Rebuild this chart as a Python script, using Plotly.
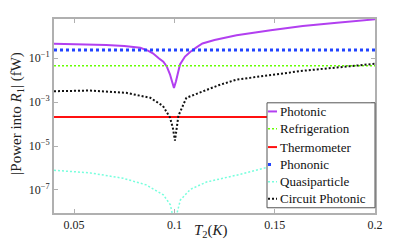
import plotly.graph_objects as go

# Temperature T2 (K) sample points and curve values (fW)
x_photonic = [0.04, 0.05, 0.066, 0.075, 0.083, 0.0868, 0.0893, 0.0922, 0.0945, 0.0962, 0.0978, 0.0988, 0.0998, 0.1008, 0.1018, 0.1028, 0.1053, 0.108, 0.111, 0.114, 0.12, 0.131, 0.148, 0.164, 0.181, 0.2]
y_photonic = [0.46, 0.447, 0.40, 0.363, 0.303, 0.224, 0.168, 0.10, 0.07, 0.0423, 0.0186, 0.0089, 0.00447, 0.0089, 0.0251, 0.0525, 0.12, 0.20, 0.316, 0.473, 0.676, 1.13, 1.90, 2.96, 4.17, 5.93]

x_circuit = [0.04, 0.058, 0.076, 0.088, 0.0943, 0.0978, 0.0992, 0.1003, 0.1012, 0.102, 0.106, 0.114, 0.122, 0.131, 0.148, 0.164, 0.181, 0.2]
y_circuit = [3.16e-3, 3.39e-3, 2.66e-3, 1.58e-3, 6.76e-4, 2.0e-4, 7.0e-5, 1.78e-5, 7.0e-5, 2.4e-4, 1.58e-3, 3.16e-3, 5.89e-3, 1.07e-2, 1.78e-2, 2.69e-2, 3.8e-2, 5.62e-2]

x_quasi = [0.04, 0.058, 0.0745, 0.086, 0.0945, 0.098, 0.1, 0.103, 0.108, 0.116, 0.133, 0.146, 0.16, 0.18, 0.2]
y_quasi = [7.9e-7, 6.0e-7, 3.4e-7, 1.7e-7, 6.0e-8, 2.1e-8, 3e-9, 3.5e-8, 1.07e-7, 2.3e-7, 5.2e-7, 1.05e-6, 2.0e-6, 4.2e-6, 7.6e-6]

x_const = [0.04, 0.2]
y_refrigeration = [0.046, 0.046]
y_thermometer = [2.1e-4, 2.1e-4]
y_phononic = [0.24, 0.24]

series_names = ["Photonic", "Refrigeration", "Thermometer", "Phononic", "Quasiparticle", "Circuit Photonic"]

x_tickvals = [0.05, 0.1, 0.15, 0.2]
x_ticktext = ["0.05", "0.1", "0.15", "0.2"]
y_tickvals = [1e-7, 1e-5, 1e-3, 1e-1]
y_ticktext = ["10<sup>−7</sup>", "10<sup>−5</sup>", "10<sup>−3</sup>", "10<sup>−1</sup>"]

FONT = "'Liberation Serif', 'Times New Roman', serif"

styles = {
    "Photonic": dict(color="#b23ff0", width=2),
    "Refrigeration": dict(color="#66ff00", width=1.5, dash="2px,2px"),
    "Thermometer": dict(color="#ff1010", width=2),
    "Phononic": dict(color="#2244ff", width=3, dash="3px,3px"),
    "Quasiparticle": dict(color="#77ffdd", width=1.5, dash="2px,2px"),
    "Circuit Photonic": dict(color="#111111", width=2, dash="2px,2px"),
}
data = {
    "Photonic": (x_photonic, y_photonic),
    "Refrigeration": (x_const, y_refrigeration),
    "Thermometer": (x_const, y_thermometer),
    "Phononic": (x_const, y_phononic),
    "Quasiparticle": (x_quasi, y_quasi),
    "Circuit Photonic": (x_circuit, y_circuit),
}

fig = go.Figure()
for name in series_names:
    xs, ys = data[name]
    fig.add_trace(go.Scatter(x=xs, y=ys, mode="lines", name=name, line=styles[name]))

# Hand-made compact legend (box, short line samples, labels) in paper coordinates
shapes = [dict(type="rect", xref="paper", yref="paper", x0=0.6636, x1=1.0, y0=0.027, y1=0.568,
               line=dict(color="#555555", width=1), fillcolor="white", layer="above")]
annotations = []
row_y = [0.5235, 0.4337, 0.3398, 0.2500, 0.1612, 0.0730]
for name, yy in zip(series_names, row_y):
    st = dict(styles[name])
    if name == "Phononic":
        st = dict(color=st["color"], width=3, dash="3px,6px")
    shapes.append(dict(type="line", xref="paper", yref="paper", x0=0.6667, x1=0.6947, y0=yy, y1=yy,
                       line=st, layer="above"))
    annotations.append(dict(text=name, xref="paper", yref="paper", x=0.6978, y=yy,
                            xanchor="left", yanchor="middle", showarrow=False,
                            font=dict(family=FONT, size=13, color="#111111")))

annotations += [
    dict(text="<i>T</i><sub>2</sub>(<i>K</i>)", xref="paper", yref="paper",
         x=0.489, y=-0.095, xanchor="center", yanchor="middle",
         showarrow=False, font=dict(family=FONT, size=15, color="#222222")),
    dict(text="|Power into <i>R</i><sub>1</sub>| (fW)", xref="paper", yref="paper",
         x=-0.1153, y=0.517, xanchor="center", yanchor="middle", textangle=-90,
         showarrow=False, font=dict(family=FONT, size=15, color="#222222")),
]

# The page adds an 8px body margin, so the figure is sized to fill the rest of the 415x241 window
fig.update_layout(
    width=407, height=233,
    margin=dict(l=46, r=40, t=9, b=28),
    paper_bgcolor="white", plot_bgcolor="white",
    font=dict(family=FONT, size=12, color="#222222"),
    showlegend=False,
    shapes=shapes,
    annotations=annotations,
    xaxis=dict(range=[0.04, 0.2], tickvals=x_tickvals, ticktext=x_ticktext,
               showgrid=False, zeroline=False, showline=True, mirror="ticks",
               linecolor="#b0b0b0", linewidth=2, ticks="inside", ticklen=4,
               tickcolor="#b0b0b0", tickfont=dict(family=FONT, size=12)),
    yaxis=dict(type="log", range=[-8.05, 0.79], tickvals=y_tickvals, ticktext=y_ticktext,
               showgrid=False, zeroline=False, showline=True, mirror="ticks",
               linecolor="#b0b0b0", linewidth=2, ticks="inside", ticklen=4,
               tickcolor="#b0b0b0", tickfont=dict(family=FONT, size=12)),
)

fig.write_html("out.html")
